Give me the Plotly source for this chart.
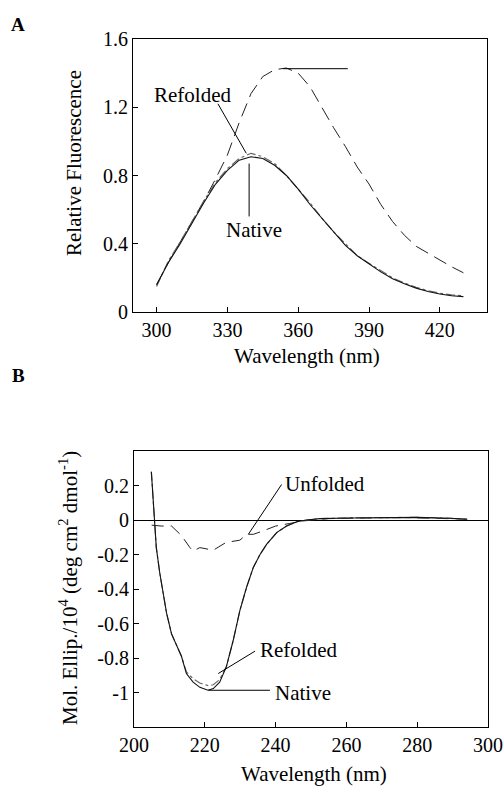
import plotly.graph_objects as go

# ---------------- Panel A data (fluorescence) ----------------
wl_a = [300, 305, 310, 315, 320, 325, 330, 335, 340, 345, 350, 355, 360, 365,
        370, 375, 380, 385, 390, 395, 400, 405, 410, 415, 420, 425, 430]
native_a = [0.16, 0.29, 0.40, 0.52, 0.64, 0.75, 0.83, 0.89, 0.91, 0.90, 0.86, 0.80,
            0.72, 0.63, 0.55, 0.47, 0.39, 0.33, 0.28, 0.235, 0.195, 0.165, 0.14,
            0.12, 0.105, 0.095, 0.09]
refolded_a = [0.15, 0.30, 0.41, 0.53, 0.65, 0.76, 0.84, 0.90, 0.93, 0.91, 0.87, 0.80,
              0.72, 0.64, 0.55, 0.47, 0.40, 0.33, 0.285, 0.24, 0.20, 0.17, 0.145,
              0.125, 0.11, 0.10, 0.095]
unfolded_a = [0.16, 0.29, 0.41, 0.53, 0.65, 0.78, 0.92, 1.11, 1.28, 1.38, 1.42, 1.43,
              1.40, 1.32, 1.20, 1.08, 0.97, 0.85, 0.75, 0.63, 0.53, 0.45, 0.385,
              0.345, 0.30, 0.265, 0.23]
xticks_a = [300, 330, 360, 390, 420]
yticks_a = [0, 0.4, 0.8, 1.2, 1.6]
yticklabels_a = ["0", "0.4", "0.8", "1.2", "1.6"]

# ---------------- Panel B data (CD) ----------------
wl_b = [204.9, 205.6, 206.3, 207.3, 208.2, 209.2, 210.6, 212, 213.4, 214.8, 216.7,
        218.6, 220.9, 222.4, 224.2, 226.1, 228, 229.9, 231.8, 233.7, 235.6, 237.5,
        240.3, 243.1, 246, 248.8, 252.5, 261, 270.5, 280, 289.3, 294]
native_b = [0.28, 0.05, -0.16, -0.31, -0.43, -0.54, -0.66, -0.72, -0.79, -0.89, -0.94,
            -0.97, -0.987, -0.977, -0.94, -0.85, -0.70, -0.525, -0.39, -0.275, -0.20,
            -0.14, -0.073, -0.035, -0.01, 0.0, 0.008, 0.012, 0.012, 0.015, 0.01, 0.004]
refolded_b = [0.28, 0.05, -0.16, -0.31, -0.43, -0.54, -0.66, -0.72, -0.79, -0.88, -0.92,
              -0.945, -0.96, -0.955, -0.925, -0.85, -0.70, -0.525, -0.39, -0.275, -0.20,
              -0.14, -0.073, -0.035, -0.01, 0.0, 0.008, 0.012, 0.012, 0.015, 0.01, 0.004]
wl_unf_b = [205, 207.7, 210.6, 213.4, 215.8, 216.7, 218.6, 222.4, 226, 229.9, 231.8,
            233.7, 236.5, 240, 244, 248, 255, 265, 275, 285, 295]
unfolded_b = [-0.03, -0.035, -0.035, -0.09, -0.16, -0.18, -0.16, -0.175, -0.13, -0.117,
              -0.083, -0.083, -0.063, -0.035, -0.02, -0.005, 0.008, 0.01, 0.015, 0.01, 0.004]
xticks_b = [200, 220, 240, 260, 280, 300]
yticks_b = [-1, -0.8, -0.6, -0.4, -0.2, 0, 0.2]
yticklabels_b = ["-1", "-0.8", "-0.6", "-0.4", "-0.2", "0", "0.2"]

# labels: (text, x, y, panel) and leader lines (x0, y0, x1, y1, panel)
labels = [("Refolded", 297.9, 1.27, "a"), ("Native", 328.6, 0.48, "a"),
          ("Unfolded", 242.2, 0.206, "b"), ("Refolded", 235.1, -0.756, "b"),
          ("Native", 239.3, -1.0, "b")]
leaders = [(326, 1.22, 338, 0.93, "a"), (339.2, 0.87, 339.2, 0.56, "a"),
           (353.6, 1.426, 381, 1.426, "a"),
           (241.7, 0.206, 232.3, -0.083, "b"), (234.2, -0.76, 223.8, -0.89, "b"),
           (221, -0.987, 238.4, -0.987, "b")]

FONT = "Liberation Serif"
W, H = 504, 787

fig = go.Figure()
fig.add_trace(go.Scatter(x=wl_a, y=unfolded_a, mode="lines", line=dict(color="#222", width=1, dash="14px,7px"), xaxis="x", yaxis="y"))
fig.add_trace(go.Scatter(x=wl_a, y=refolded_a, mode="lines", line=dict(color="#666", width=1.2, dash="dashdot"), xaxis="x", yaxis="y"))
fig.add_trace(go.Scatter(x=wl_a, y=native_a, mode="lines", line=dict(color="#111", width=1.1), xaxis="x", yaxis="y"))

fig.add_trace(go.Scatter(x=wl_unf_b, y=unfolded_b, mode="lines", line=dict(color="#222", width=1, dash="12px,7px"), xaxis="x2", yaxis="y2"))
fig.add_trace(go.Scatter(x=wl_b, y=refolded_b, mode="lines", line=dict(color="#666", width=1.2, dash="dashdot"), xaxis="x2", yaxis="y2"))
fig.add_trace(go.Scatter(x=wl_b, y=native_b, mode="lines", line=dict(color="#111", width=1.1), xaxis="x2", yaxis="y2"))

axis_common = dict(showgrid=False, zeroline=False, showline=True, linecolor="black", linewidth=1.2,
                   mirror=True, ticks="inside", ticklen=5, tickwidth=1, tickcolor="black",
                   automargin=False,
                   tickfont=dict(family=FONT, size=20, color="black"))

fig.update_layout(
    width=W, height=H, margin=dict(l=0, r=0, t=0, b=0, autoexpand=False),
    paper_bgcolor="white", plot_bgcolor="white", showlegend=False,
    font=dict(family=FONT, color="black"),
    xaxis=dict(domain=[133 / W, 487 / W], range=[290, 440], tickvals=xticks_a, anchor="y", **axis_common),
    yaxis=dict(domain=[1 - 312 / H, 1 - 39 / H], range=[0, 1.6], tickvals=yticks_a, ticktext=yticklabels_a, anchor="x", **axis_common),
    xaxis2=dict(domain=[134 / W, 488 / W], range=[200, 300], tickvals=xticks_b, anchor="y2", **axis_common),
    yaxis2=dict(domain=[1 - 727 / H, 1 - 451 / H], range=[-1.2, 0.4], tickvals=yticks_b, ticktext=yticklabels_b, anchor="x2", **axis_common),
)
fig.update_yaxes(selector=dict(anchor="x2"), zeroline=True, zerolinecolor="black", zerolinewidth=1.2)

for x0, y0, x1, y1, p in leaders:
    xr, yr = ("x", "y") if p == "a" else ("x2", "y2")
    fig.add_shape(type="line", x0=x0, y0=y0, x1=x1, y1=y1, xref=xr, yref=yr, line=dict(color="black", width=1))

for text, x, y, p in labels:
    xr, yr = ("x", "y") if p == "a" else ("x2", "y2")
    fig.add_annotation(text=text, x=x, y=y, xref=xr, yref=yr, xanchor="left", yanchor="middle",
                       showarrow=False, font=dict(family=FONT, size=21, color="black"))

# axis titles and panel letters
titles = [("Wavelength (nm)", 307, 356, 0), ("Relative Fluorescence", 74, 163, -90),
          ("Wavelength (nm)", 314, 774, 0),
          ("Mol. Ellip./10<sup>4</sup> (deg cm<sup>2</sup> dmol<sup>-1</sup>)", 68, 588, -90)]
for text, px, py, ang in titles:
    fig.add_annotation(text=text, x=px / W, y=1 - py / H, xref="paper", yref="paper",
                       xanchor="center", yanchor="middle", textangle=ang, showarrow=False,
                       font=dict(family=FONT, size=21, color="black"))
for text, px, py in [("A", 18, 25), ("B", 18, 375)]:
    fig.add_annotation(text="<b>" + text + "</b>", x=px / W, y=1 - py / H, xref="paper", yref="paper",
                       xanchor="center", yanchor="middle", showarrow=False,
                       font=dict(family=FONT, size=19, color="black"))

fig.write_html("out.html", config={"displayModeBar": False},
               post_script="document.body.style.margin='0px';document.body.style.overflow='hidden';")
